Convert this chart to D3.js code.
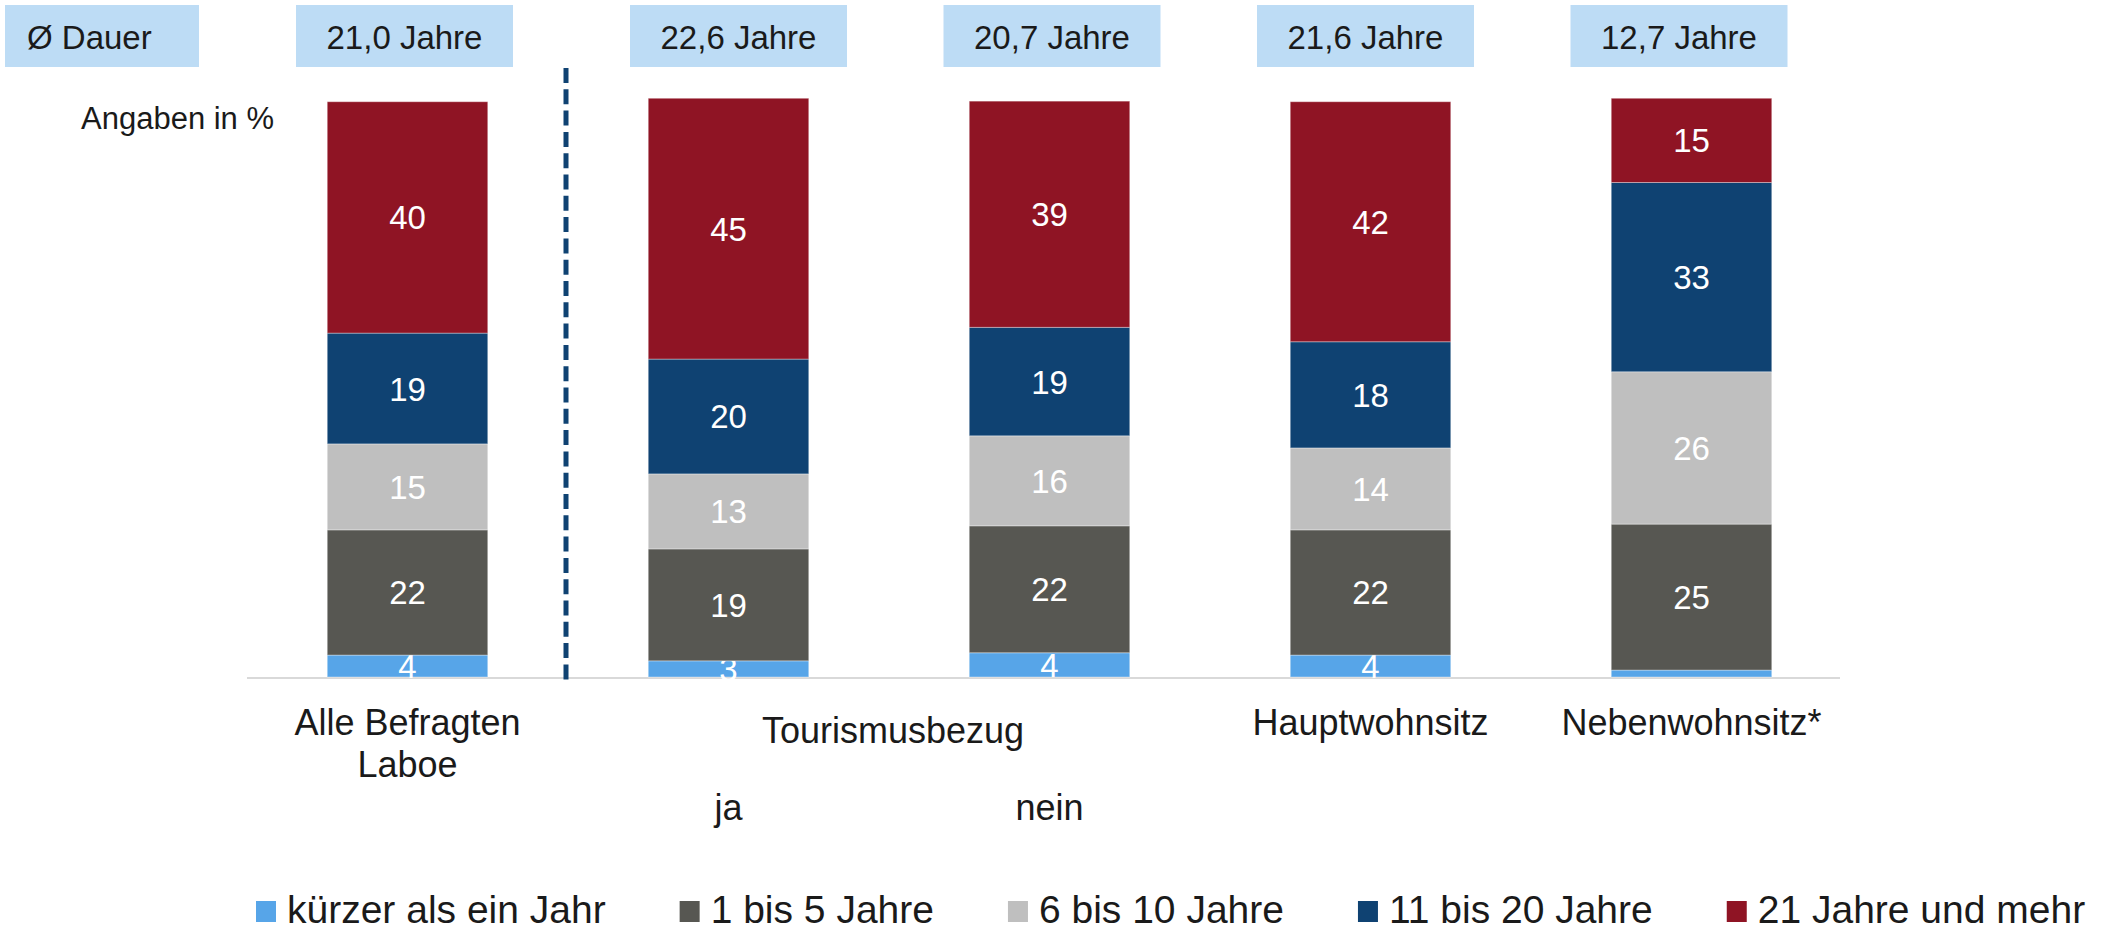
<!DOCTYPE html>
<html>
<head>
<meta charset="utf-8">
<script src="https://cdn.jsdelivr.net/npm/d3@7"></script>
<style>
  body { margin: 0; background: #fff; }
  svg text { font-family: "Liberation Sans", Arial, sans-serif; }
</style>
</head>
<body>
<div id="chart"></div>
<script>
// categories (bars) and their x-axis label lines
var categories = ["Alle Befragten Laboe", "ja", "nein", "Hauptwohnsitz", "Nebenwohnsitz*"];
var categoryLines = [["Alle Befragten", "Laboe"], ["ja"], ["nein"], ["Hauptwohnsitz"], ["Nebenwohnsitz*"]];
var groupLabel = "Tourismusbezug";   // spans "ja" and "nein"
var durations = ["21,0 Jahre", "22,6 Jahre", "20,7 Jahre", "21,6 Jahre", "12,7 Jahre"];

// series, bottom to top
var seriesNames = ["kürzer als ein Jahr", "1 bis 5 Jahre", "6 bis 10 Jahre", "11 bis 20 Jahre", "21 Jahre und mehr"];
var kuerzer   = [3.8, 2.8, 4.2, 3.8, 1.2];
var bis5      = [21.7, 19.4, 22.0, 21.7, 25.3];
var bis10     = [14.9, 13.0, 15.6, 14.2, 26.4];
var bis20     = [19.2, 19.9, 18.8, 18.4, 32.8];
var mehr21    = [40.1, 45.2, 39.2, 41.6, 14.6];
var colors = ["#57A5E8", "#575752", "#BFBFBF", "#0F4272", "#8F1424"];

var W = 2116, H = 928;
var svg = d3.select("#chart").append("svg")
  .attr("width", W).attr("height", H);

var rows = categories.map(function (c, i) {
  return { cat: c, s0: kuerzer[i], s1: bis5[i], s2: bis10[i], s3: bis20[i], s4: mehr21[i] };
});
var keys = ["s0", "s1", "s2", "s3", "s4"];
var stacked = d3.stack().keys(keys)(rows);

var x = d3.scaleBand().domain(categories).range([247, 1852])
  .paddingInner(0.5).paddingOuter(0.25);
var y = d3.scaleLinear().domain([0, 100]).range([677, 100]);

// baseline
svg.append("line")
  .attr("x1", x.range()[0]).attr("x2", x.range()[1] - 12)
  .attr("y1", y(0) + 1).attr("y2", y(0) + 1)
  .attr("stroke", "#D9D9D9").attr("stroke-width", 2);

// bars
var layers = svg.selectAll(".layer").data(stacked).enter().append("g")
  .attr("class", "layer")
  .attr("fill", function (d, i) { return colors[i]; });

layers.selectAll("rect").data(function (d) { return d; }).enter().append("rect")
  .attr("x", function (d) { return x(d.data.cat); })
  .attr("width", x.bandwidth())
  .attr("y", function (d) { return y(d[1]); })
  .attr("height", function (d) { return y(d[0]) - y(d[1]); })
  .attr("stroke", "#fff").attr("stroke-opacity", 0.35).attr("stroke-width", 1);

// value labels
layers.selectAll("text").data(function (d) { return d; }).enter()
  .filter(function (d) { return d[1] - d[0] >= 2; })
  .append("text")
  .attr("x", function (d) { return x(d.data.cat) + x.bandwidth() / 2; })
  .attr("y", function (d) { return (y(d[0]) + y(d[1])) / 2 + 12; })
  .attr("text-anchor", "middle")
  .attr("fill", "#fff")
  .style("font-size", "33px")
  .text(function (d) { return Math.round(d[1] - d[0]); });

// dashed separator
var sepX = (x(categories[0]) + x.bandwidth() + x(categories[1])) / 2 - 2;
svg.append("line")
  .attr("x1", sepX).attr("x2", sepX)
  .attr("y1", 68).attr("y2", 680)
  .attr("stroke", "#0F4272").attr("stroke-width", 5)
  .attr("stroke-dasharray", "15,6.3");

// header boxes (the last four sit on an even grid of their own)
var boxX = d3.scaleLinear().domain([1, 4]).range([738.5, 1679]);
svg.append("rect").attr("x", 5).attr("y", 5).attr("width", 194).attr("height", 62)
  .attr("fill", "#BDDCF5");
svg.append("text").attr("x", 27).attr("y", 49).text("Ø Dauer")
  .style("font-size", "33px").attr("fill", "#1a1a1a");

categories.forEach(function (c, i) {
  var cx = i === 0 ? x(c) + x.bandwidth() / 2 - 3 : boxX(i);
  svg.append("rect").attr("x", cx - 108.5).attr("y", 5).attr("width", 217).attr("height", 62)
    .attr("fill", "#BDDCF5");
  svg.append("text").attr("x", cx).attr("y", 49).attr("text-anchor", "middle")
    .style("font-size", "33px").attr("fill", "#1a1a1a").text(durations[i]);
});

svg.append("text").attr("x", 81).attr("y", 129).text("Angaben in %")
  .style("font-size", "31px").attr("fill", "#1a1a1a");

// category labels
categories.forEach(function (c, i) {
  var cx = x(c) + x.bandwidth() / 2;
  var inGroup = (i === 1 || i === 2);
  var y0 = inGroup ? 820 : 735;
  categoryLines[i].forEach(function (line, k) {
    svg.append("text").attr("x", cx).attr("y", y0 + k * 42)
      .attr("text-anchor", "middle").style("font-size", "36px").attr("fill", "#1a1a1a")
      .text(line);
  });
});
var gx = (x(categories[1]) + x(categories[2]) + x.bandwidth()) / 2 + 4;
svg.append("text").attr("x", gx).attr("y", 743).attr("text-anchor", "middle")
  .style("font-size", "36px").attr("fill", "#1a1a1a").text(groupLabel);

// legend
var lx = 256;
seriesNames.forEach(function (name, i) {
  var g = svg.append("g").attr("transform", "translate(" + lx + ",0)");
  g.append("rect").attr("x", 0).attr("y", 901).attr("width", 20).attr("height", 21)
    .attr("fill", colors[i]);
  var t = g.append("text").attr("x", 31).attr("y", 923)
    .style("font-size", "39px").attr("fill", "#1a1a1a").text(name);
  lx += 31 + t.node().getComputedTextLength() + 74;
});
</script>
</body>
</html>
